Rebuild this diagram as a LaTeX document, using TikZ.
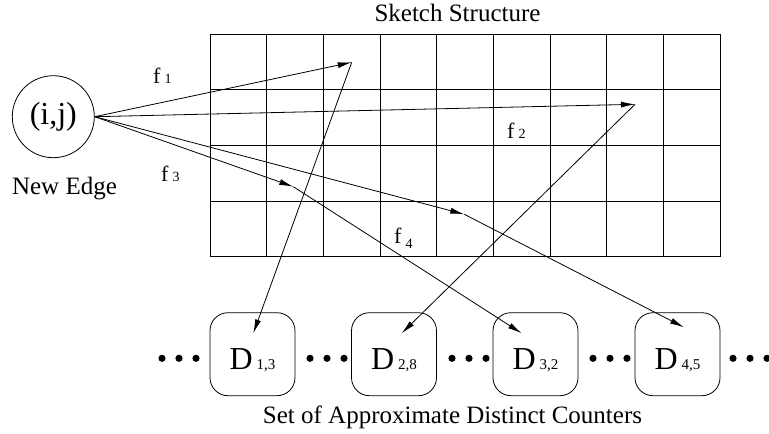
\documentclass[tikz,border=0pt]{standalone}
\usepackage{fontspec}
\setmainfont{Liberation Serif}
\usetikzlibrary{arrows.meta,positioning}
\newcommand{\cnt}[2]{{\fontsize{32}{32}\selectfont D}\hspace{4pt}{\fontsize{15}{15}\selectfont #1,#2}}
\newcommand{\fname}[1]{{\fontsize{22}{22}\selectfont f}\hspace{4pt}{\fontsize{14}{14}\selectfont #1}}

\begin{document}
\begin{tikzpicture}[x=1pt,y=-1pt,
    every node/.style={font=\fontsize{25}{25}\selectfont},
    counter/.style={draw, line width=0.8pt, rounded corners=18pt, minimum width=85pt,
      minimum height=83pt, inner sep=0pt, text height=30pt, text depth=0pt},
    hash/.style={-{Latex[length=14pt,width=6pt]}, line width=0.8pt},
    txt/.style={inner sep=0pt, anchor=base}]
    \useasboundingbox (0,0) rectangle (769,434);

    % sketch table
    \foreach \i in {0,...,9}
      \draw[line width=1pt] (210+\i*56.667,34) -- (210+\i*56.667,256.7);
    \foreach \j in {0,...,4}
      \draw[line width=1pt] (210,34+\j*55.675) -- (720,34+\j*55.675);
    \node[txt] (sketch) at (457.5,21.7) {Sketch Structure};

    \node[circle, draw, line width=0.8pt, minimum size=82pt, inner sep=0pt,
      font=\fontsize{32}{32}\selectfont] (edge) at (53.3,116.7) {(i,j)};
    \node[txt] (newedge) at (64.5,194) {New Edge};

    \node[counter] (d13) at (252.5,354.2) {\cnt{1}{3}};
    \node[counter] (d28) at (394,354.2) {\cnt{2}{8}};
    \node[counter] (d32) at (535.5,354.2) {\cnt{3}{2}};
    \node[counter] (d45) at (677.5,354.2) {\cnt{4}{5}};
    \node[txt] (set) at (452.5,423) {Set of Approximate Distinct Counters};

    \foreach \x in {179,327,469,610,750}
      \foreach \d in {-17,0,17}
        \fill (\x+\d,358.3) circle (3.6pt);

    % hashed cells
    \coordinate (h1) at (351.7,62.3);
    \coordinate (h2) at (635,104.3);
    \coordinate (h3) at (293.3,186.7);
    \coordinate (h4) at (464.3,214.3);
    \coordinate (c1) at (253.3,333.3);
    \coordinate (c2) at (401.7,333.3);
    \coordinate (c3) at (521.7,333.3);
    \coordinate (c4) at (684,327.3);

    \draw[hash] (edge.east) -- (h1);
    \draw[hash] (edge.east) -- (h2);
    \draw[hash] (edge.east) -- (h3);
    \draw[hash] (edge.east) -- (h4);
    \draw[hash] (h1) -- (c1);
    \draw[hash] (h2) -- (c2);
    \draw[hash] (h3) -- (c3);
    \draw[hash] (h4) -- (c4);

    \node[txt, anchor=base west] (f1) at (153,83) {\fname{1}};
    \node[txt, anchor=base west] (f2) at (507,138.3) {\fname{2}};
    \node[txt, anchor=base west] (f3) at (161,181.7) {\fname{3}};
    \node[txt, anchor=base west] (f4) at (394,243)
      {{\fontsize{22}{22}\selectfont f}\hspace{4pt}\raisebox{-5pt}{\fontsize{14}{14}\selectfont 4}};
\end{tikzpicture}
\end{document}
